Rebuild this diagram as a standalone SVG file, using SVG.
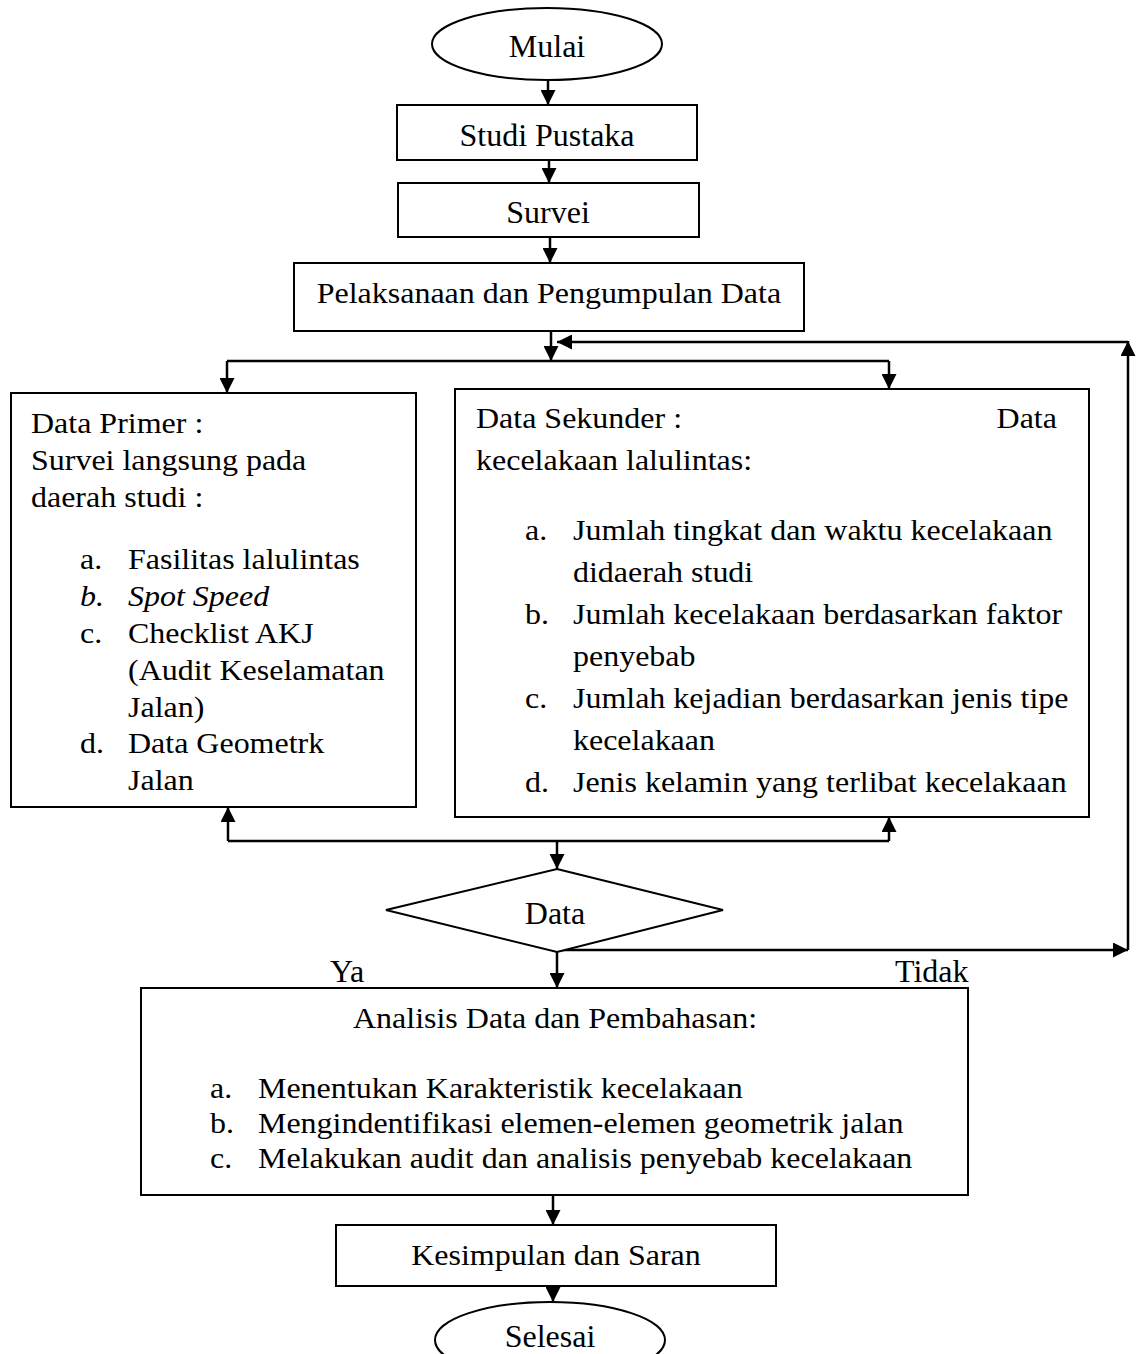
<svg xmlns="http://www.w3.org/2000/svg" width="1141" height="1354" viewBox="0 0 1141 1354">
<style>
  text { font-family: "Liberation Serif", "Times New Roman", serif; font-size: 32px; fill: #000; }
  .s { font-size: 29px; }
  .c { text-anchor: middle; }
  .box { fill: #fff; stroke: #000; stroke-width: 2; }
  .ln { fill: none; stroke: #000; stroke-width: 2.5; }
  .arr { marker-end: url(#ah); }
</style>
<defs>
  <marker id="ah" viewBox="0 0 15 15" refX="15" refY="7.5" markerWidth="15" markerHeight="15" markerUnits="userSpaceOnUse" orient="auto">
    <path d="M0,0 L15,7.5 L0,15 z" fill="#000"/>
  </marker>
</defs>
<rect width="1141" height="1354" fill="#fff"/>

<g id="connectors">
  <line class="ln arr" x1="548" y1="80" x2="548" y2="105"/>
  <line class="ln arr" x1="549" y1="160" x2="549" y2="183"/>
  <line class="ln arr" x1="550" y1="237" x2="550" y2="263"/>
  <line class="ln arr" x1="551" y1="331" x2="551" y2="361"/>
  <line class="ln" x1="227" y1="361" x2="889" y2="361"/>
  <line class="ln arr" x1="227" y1="361" x2="227" y2="393"/>
  <line class="ln arr" x1="889" y1="361" x2="889" y2="389"/>
  <line class="ln" x1="228" y1="841" x2="889" y2="841"/>
  <line class="ln arr" x1="228" y1="841" x2="228" y2="807"/>
  <line class="ln arr" x1="889" y1="841" x2="889" y2="817"/>
  <line class="ln arr" x1="557" y1="841" x2="557" y2="869"/>
  <line class="ln arr" x1="557" y1="952" x2="557" y2="988"/>
  <line class="ln arr" x1="557" y1="950" x2="1128" y2="950"/>
  <line class="ln arr" x1="1128" y1="950" x2="1128" y2="341"/>
  <line class="ln arr" x1="1128" y1="342" x2="557" y2="342"/>
  <line class="ln arr" x1="553" y1="1195" x2="553" y2="1225"/>
  <line class="ln arr" x1="553" y1="1286" x2="553" y2="1302"/>
</g>

<g id="mulai">
  <ellipse class="box" cx="547" cy="44" rx="115" ry="36"/>
  <text class="c" x="547" y="57">Mulai</text>
</g>

<g id="studi-pustaka">
  <rect class="box" x="397" y="105" width="300" height="55"/>
  <text class="c" x="547" y="146">Studi Pustaka</text>
</g>

<g id="survei">
  <rect class="box" x="398" y="183" width="301" height="54"/>
  <text class="c" x="548" y="223">Survei</text>
</g>

<g id="pelaksanaan">
  <rect class="box" x="294" y="263" width="510" height="68"/>
  <g transform="scale(1.1034,1)">
    <text class="s c" x="497.5" y="303">Pelaksanaan dan Pengumpulan Data</text>
  </g>
</g>

<g id="data-primer">
  <rect class="box" x="11" y="393" width="405" height="414"/>
  <g transform="scale(1.1034,1)" class="s">
    <text class="s" x="28.1" y="433">Data Primer :</text>
    <text class="s" x="28.1" y="470">Survei langsung pada</text>
    <text class="s" x="28.1" y="507">daerah studi :</text>
    <text class="s" x="72.5" y="569">a.</text><text class="s" x="116" y="569">Fasilitas lalulintas</text>
    <text class="s" x="72.5" y="606" font-style="italic">b.</text><text class="s" x="116" y="606" font-style="italic">Spot Speed</text>
    <text class="s" x="72.5" y="643">c.</text><text class="s" x="116" y="643">Checklist AKJ</text>
    <text class="s" x="116" y="680">(Audit Keselamatan</text>
    <text class="s" x="116" y="717">Jalan)</text>
    <text class="s" x="72.5" y="753">d.</text><text class="s" x="116" y="753">Data Geometrk</text>
    <text class="s" x="116" y="790">Jalan</text>
  </g>
</g>

<g id="data-sekunder">
  <rect class="box" x="455" y="389" width="634" height="428"/>
  <g transform="scale(1.1034,1)">
    <text class="s" x="431.4" y="428">Data Sekunder :</text>
    <text class="s" x="957.9" y="428" text-anchor="end">Data</text>
    <text class="s" x="431.4" y="470">kecelakaan lalulintas:</text>
    <text class="s" x="475.8" y="540">a.</text><text class="s" x="519.3" y="540">Jumlah tingkat dan waktu kecelakaan</text>
    <text class="s" x="519.3" y="582">didaerah studi</text>
    <text class="s" x="475.8" y="624">b.</text><text class="s" x="519.3" y="624">Jumlah kecelakaan berdasarkan faktor</text>
    <text class="s" x="519.3" y="666">penyebab</text>
    <text class="s" x="475.8" y="708">c.</text><text class="s" x="519.3" y="708">Jumlah kejadian berdasarkan jenis tipe</text>
    <text class="s" x="519.3" y="750">kecelakaan</text>
    <text class="s" x="475.8" y="792">d.</text><text class="s" x="519.3" y="792">Jenis kelamin yang terlibat kecelakaan</text>
  </g>
</g>

<g id="data-decision">
  <polygon class="box" points="557,869 723,910 557,952 386,910"/>
  <text class="c" x="555" y="924">Data</text>
</g>

<g id="labels">
  <text x="330" y="982">Ya</text>
  <text x="895" y="982">Tidak</text>
</g>

<g id="analisis">
  <rect class="box" x="141" y="988" width="827" height="207"/>
  <g transform="scale(1.1034,1)">
    <text class="s c" x="503" y="1028">Analisis Data dan Pembahasan:</text>
    <text class="s" x="190.3" y="1098">a.</text><text class="s" x="233.8" y="1098">Menentukan Karakteristik kecelakaan</text>
    <text class="s" x="190.3" y="1133">b.</text><text class="s" x="233.8" y="1133">Mengindentifikasi elemen-elemen geometrik jalan</text>
    <text class="s" x="190.3" y="1168">c.</text><text class="s" x="233.8" y="1168">Melakukan audit dan analisis penyebab kecelakaan</text>
  </g>
</g>

<g id="kesimpulan">
  <rect class="box" x="336" y="1225" width="440" height="61"/>
  <g transform="scale(1.1034,1)">
    <text class="s c" x="503.9" y="1265">Kesimpulan dan Saran</text>
  </g>
</g>

<g id="selesai">
  <ellipse class="box" cx="550" cy="1340" rx="115" ry="38"/>
  <text class="c" x="550" y="1347">Selesai</text>
</g>
</svg>
